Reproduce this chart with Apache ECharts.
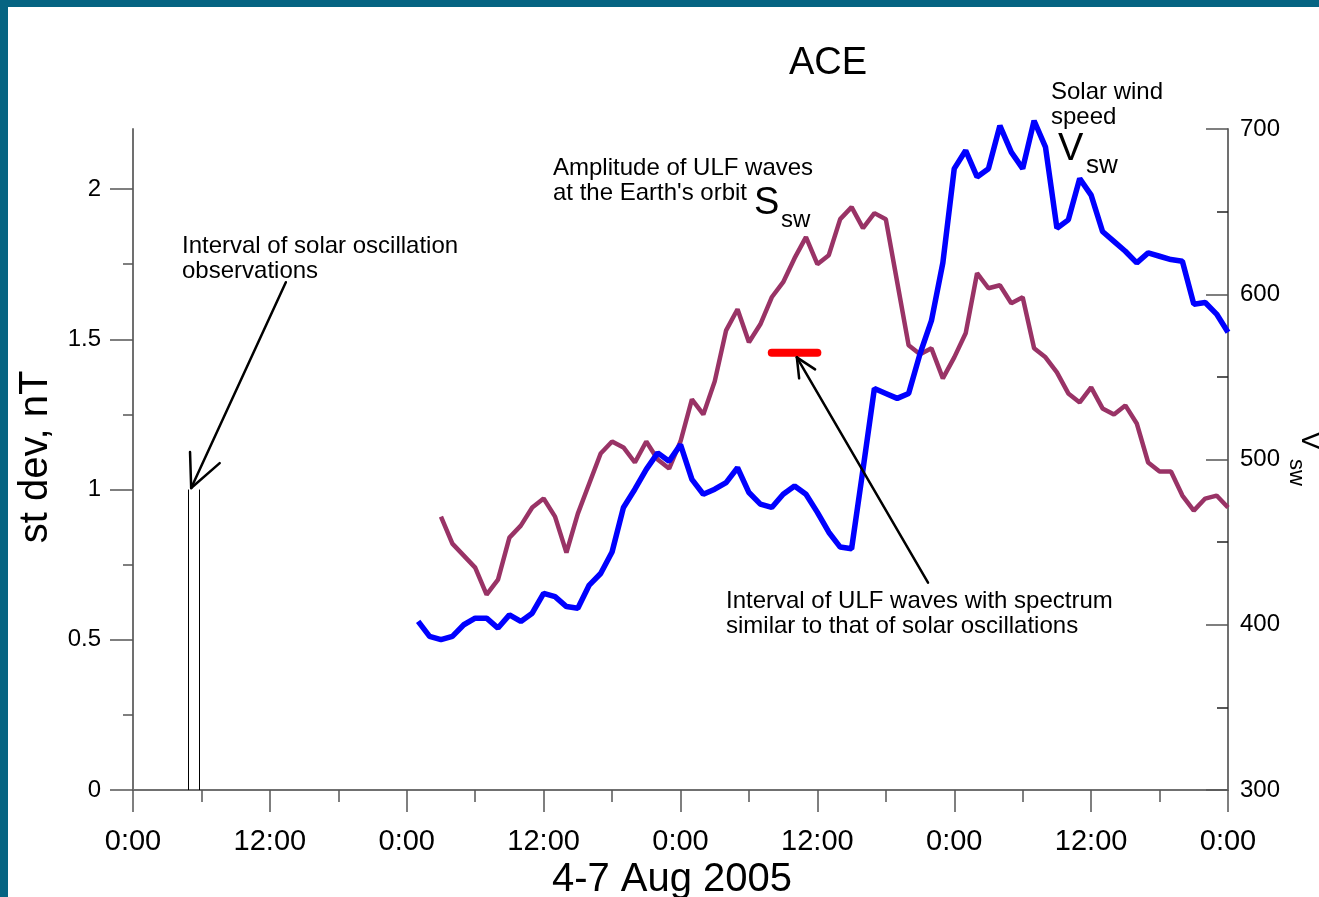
<!DOCTYPE html>
<html>
<head>
<meta charset="utf-8">
<script src="https://cdn.jsdelivr.net/npm/echarts@6/dist/echarts.min.js"></script>
<style>
html,body{margin:0;padding:0;background:#fff;}
#chart{width:1319px;height:897px;}
</style>
</head>
<body>
<div id="chart"></div>
<script>
// hours counted from 4 Aug 2005 0:00
var blueStart = 25;   // Vsw, km/s, hourly
var vsw = [402,393,391,393,400,404,404,398,406,402,407,419,417,411,410,424,431,444,471,482,
	494,504,499,509,488,479,482,486,495,480,473,471,479,484,479,468,456,447,446,494,
	543,540,537,540,564,584,619,676,687,671,676,702,686,676,705,689,640,645,670,660,
	638,632,626,619,625,623,621,620,594,595,588,577];

var purpleStart = 27; // Ssw, nT, hourly
var ssw = [0.91,0.82,0.78,0.74,0.65,0.70,0.84,0.88,0.94,0.97,0.91,0.79,0.92,1.02,1.12,1.16,1.14,1.09,
	1.16,1.10,1.07,1.16,1.30,1.25,1.36,1.53,1.60,1.49,1.55,1.64,1.69,1.77,1.84,1.75,1.78,1.90,
	1.94,1.87,1.92,1.90,1.69,1.48,1.45,1.47,1.37,1.44,1.52,1.72,1.67,1.68,1.62,1.64,1.47,1.44,
	1.39,1.32,1.29,1.34,1.27,1.25,1.28,1.22,1.09,1.06,1.06,0.98,0.93,0.97,0.98,0.94];

var obsHours = [4.8, 5.8];     // solar oscillation observations
var obsTop = 1.0;
var ulfHours = [56, 60];       // ULF interval (red bar)
var ulfLevel = 1.455;

var obsArrow = [[13.4, 1.69], [5.1, 1.005]];
var obsWings = [[5.0, 1.125], [7.6, 1.088]];
var ulfArrow = [[69.7, 0.69], [58.2, 1.44]];
var ulfWings = [[58.4, 1.37], [59.8, 1.40]];

var sdevTicks = [0, 0.5, 1, 1.5, 2];
var sdevMinor = [0.25, 0.75, 1.25, 1.75];
var hourLabels = ['0:00', '12:00'];

var chart = echarts.init(document.getElementById('chart'));
var FONT = 'Liberation Sans, Arial, sans-serif';
var axisGray = '#707070';

function pairs(start, arr){
	var out = [];
	for (var i = 0; i < arr.length; i++) out.push([start + i, arr[i]]);
	return out;
}
function seg(a, b){ return [{coord: a}, {coord: b}]; }

var arrowLines = [
	seg([obsHours[0], 0], [obsHours[0], obsTop]),
	seg([obsHours[1], 0], [obsHours[1], obsTop])
];
var arrowBold = [
	seg(obsArrow[0], obsArrow[1]),
	seg(obsArrow[1], obsWings[0]),
	seg(obsArrow[1], obsWings[1]),
	seg(ulfArrow[0], ulfArrow[1]),
	seg(ulfArrow[1], ulfWings[0]),
	seg(ulfArrow[1], ulfWings[1])
];

function txt(x, y, s, size, extra){
	var o = {type:'text', x:x, y:y, silent:true,
		style:{text:s, font: size + 'px ' + FONT, fill:'#000', align:'left', verticalAlign:'middle'}};
	if (extra) for (var k in extra) o.style[k] = extra[k];
	return o;
}

var option = {
	animation: false,
	backgroundColor: '#fff',
	grid: {left:133, right:91, top:129, bottom:107},
	xAxis: {
		type:'value', min:0, max:96, interval:12,
		axisLine:{lineStyle:{color:axisGray, width:2}},
		axisTick:{length:22, lineStyle:{color:'#555', width:1.5}},
		minorTick:{show:true, splitNumber:2, length:12, lineStyle:{color:'#555', width:1.5}},
		splitLine:{show:false},
		axisLabel:{margin:37, fontSize:29, fontFamily:FONT, color:'#000',
			formatter:function(v){ return hourLabels[(v % 24) / 12]; }}
	},
	yAxis: [{
		type:'value', min:0, max:2.2, position:'left',
		axisLine:{show:true, lineStyle:{color:axisGray, width:2}},
		axisTick:{show:true, length:23, customValues:sdevTicks, lineStyle:{color:'#555', width:1.5}},
		axisLabel:{customValues:sdevTicks, margin:32, fontSize:24, fontFamily:FONT, color:'#000'},
		splitLine:{show:false}
	}, {
		type:'value', min:300, max:700, interval:100, position:'right',
		axisLine:{show:true, lineStyle:{color:axisGray, width:2}},
		axisTick:{show:true, inside:true, length:22, lineStyle:{color:'#555', width:1.5}},
		minorTick:{show:true, splitNumber:2, length:11, lineStyle:{color:'#222', width:1.5}},
		axisLabel:{margin:12, fontSize:24, fontFamily:FONT, color:'#000'},
		splitLine:{show:false}
	}, {
		type:'value', min:0, max:2.2, position:'left',
		axisLine:{show:false},
		axisTick:{show:true, length:10, customValues:sdevMinor, lineStyle:{color:'#555', width:1.5}},
		axisLabel:{show:false},
		splitLine:{show:false}
	}],
	series: [{
		name:'Ssw', type:'line', yAxisIndex:0, showSymbol:false, silent:true, clip:false,
		data: pairs(purpleStart, ssw),
		lineStyle:{color:'#993366', width:4.5},
		markLine:{silent:true, symbol:['none','none'], label:{show:false},
			lineStyle:{color:'#000', width:1, type:'solid'},
			data: arrowLines}
	}, {
		name:'Vsw', type:'line', yAxisIndex:1, showSymbol:false, silent:true, clip:false,
		data: pairs(blueStart, vsw),
		lineStyle:{color:'#0000ff', width:5.5}
	}, {
		name:'ULF interval', type:'line', yAxisIndex:0, showSymbol:false, silent:true,
		data: [[ulfHours[0], ulfLevel], [ulfHours[1], ulfLevel]],
		lineStyle:{color:'#ff0000', width:8, cap:'round'},
		markLine:{silent:true, symbol:['none','none'], label:{show:false},
			lineStyle:{color:'#000', width:2.5, type:'solid', cap:'round'},
			data: arrowBold}
	}],
	graphic: [
		{type:'rect', shape:{x:0, y:0, width:1319, height:7}, style:{fill:'#066482'}, silent:true},
		{type:'rect', shape:{x:0, y:0, width:8, height:897}, style:{fill:'#066482'}, silent:true},
		txt(828, 64, 'ACE', 38, {align:'center'}),
		txt(182, 259, 'Interval of solar oscillation\nobservations', 24, {lineHeight:25}),
		txt(553, 181, 'Amplitude of ULF waves\nat the Earth\'s orbit', 24, {lineHeight:25}),
		txt(754, 204, 'S', 38),
		txt(781, 220, 'sw', 24),
		txt(1051, 105, 'Solar wind\nspeed', 24, {lineHeight:25}),
		txt(1058, 150, 'V', 38),
		txt(1086, 166, 'sw', 26),
		txt(726, 614, 'Interval of ULF waves with spectrum\nsimilar to that of solar oscillations', 24, {lineHeight:25}),
		{type:'text', x:36, y:457, rotation:Math.PI/2, silent:true,
			style:{text:'st dev, nT', font:'40px ' + FONT, fill:'#000', align:'center', verticalAlign:'middle'}},
		{type:'text', x:672, y:880, silent:true,
			style:{text:'4-7 Aug 2005', font:'40px ' + FONT, fill:'#000', align:'center', verticalAlign:'middle'}},
		{type:'text', x:1310, y:431, rotation:-Math.PI/2, silent:true,
			style:{text:'V', font:'29px ' + FONT, fill:'#000', align:'left', verticalAlign:'middle'}},
		{type:'text', x:1296, y:459, rotation:-Math.PI/2, silent:true,
			style:{text:'sw', font:'22px ' + FONT, fill:'#000', align:'left', verticalAlign:'middle'}}
	]
};
chart.setOption(option);
</script>
</body>
</html>
